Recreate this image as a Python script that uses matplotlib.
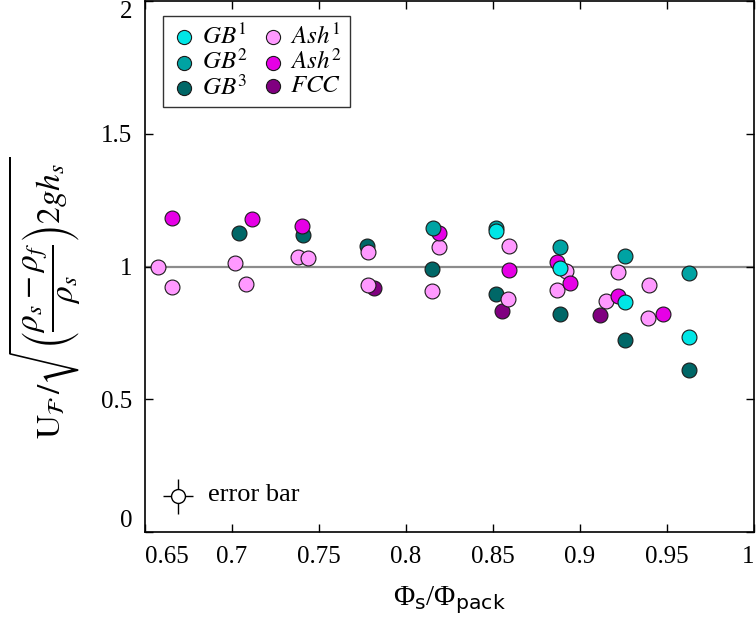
import numpy as np
import matplotlib
matplotlib.use('Agg')
import matplotlib.pyplot as plt
from matplotlib.ticker import FuncFormatter

plt.rcParams['font.family'] = ['Liberation Serif', 'DejaVu Serif']
plt.rcParams['mathtext.fontset'] = 'stix'
# used only by the x label (custom math font set)
plt.rcParams['mathtext.rm'] = 'Liberation Serif'
plt.rcParams['mathtext.it'] = 'Liberation Serif:italic'
plt.rcParams['mathtext.sf'] = 'DejaVu Sans'

# ---------------------------------------------------------------------------
# data  (Phi_s/Phi_pack , normalised front velocity)
# ---------------------------------------------------------------------------
fcc_x = [0.7816, 0.855, 0.9114]
fcc_y = [0.920, 0.831, 0.816]

ash1_x = [0.6575, 0.6655, 0.7017, 0.708, 0.7378, 0.7434, 0.778, 0.778,
          0.815, 0.819, 0.859, 0.8589, 0.892, 0.8868, 0.9219, 0.915,
          0.9397, 0.9393]
ash1_y = [0.998, 0.921, 1.012, 0.934, 1.035, 1.031, 1.055, 0.931,
          0.907, 1.073, 1.079, 0.877, 0.984, 0.913, 0.980, 0.871,
          0.929, 0.807]

ash2_x = [0.6655, 0.7114, 0.740, 0.819, 0.8593, 0.887, 0.8943, 0.9217, 0.948]
ash2_y = [1.184, 1.178, 1.153, 1.125, 0.988, 1.016, 0.936, 0.890, 0.820]

gb3_x = [0.704, 0.741, 0.7778, 0.815, 0.852, 0.8888, 0.9259, 0.9628]
gb3_y = [1.125, 1.118, 1.076, 0.990, 0.897, 0.821, 0.723, 0.612]

gb2_x = [0.8153, 0.8518, 0.8887, 0.9257, 0.9626]
gb2_y = [1.144, 1.145, 1.075, 1.040, 0.977]

gb1_x = [0.8518, 0.8885, 0.9257, 0.9626]
gb1_y = [1.133, 0.9925, 0.865, 0.734]

# error bar example (marker in lower left)
err_x, err_y = 0.669, 0.135
err_dx, err_dy = 0.0086, 0.066

fig = plt.figure(figsize=(7.56, 6.21), dpi=100)
ax = fig.add_axes([0.1918, 0.1433, 0.8055, 0.8551])

ax.axhline(1.0, color='#8c8c8c', lw=1.6, zorder=1)

kw = dict(s=115, edgecolors='#1a1a1a', linewidths=0.8, zorder=3)
series = [
    (fcc_x,  fcc_y,  '#800080', r'$FCC$'),
    (gb3_x,  gb3_y,  '#006767', r'$GB^{3}$'),
    (ash1_x, ash1_y, '#FF99FF', r'$Ash^{1}$'),
    (ash2_x, ash2_y, '#E600E6', r'$Ash^{2}$'),
    (gb2_x,  gb2_y,  '#00A3A3', r'$GB^{2}$'),
    (gb1_x,  gb1_y,  '#00E6E6', r'$GB^{1}$'),
]
handles = {}
for x, y, c, lab in series:
    handles[lab] = ax.scatter(x, y, color=c, label=lab, **kw)

order = [r'$GB^{1}$', r'$GB^{2}$', r'$GB^{3}$',
         r'$Ash^{1}$', r'$Ash^{2}$', r'$FCC$']
leg = ax.legend([handles[k] for k in order], order, ncol=2,
                loc='upper left', bbox_to_anchor=(0.0295, 0.972),
                fontsize=18, frameon=True, fancybox=False,
                handletextpad=0.15, columnspacing=0.45, labelspacing=0.02,
                borderpad=0.3, handlelength=1.1, borderaxespad=0.,
                markerscale=0.95)
leg.get_frame().set_edgecolor('black')
leg.get_frame().set_linewidth(1.0)

# error bar sample
ax.errorbar([err_x], [err_y], xerr=[err_dx], yerr=[err_dy], fmt='o',
            mfc='white', mec='black', ecolor='black', ms=10, mew=1.0,
            elinewidth=1.0, capsize=0, zorder=3)
ax.text(err_x + 0.017, err_y + 0.005, 'error bar', fontsize=19,
        va='center', ha='left')

ax.set_xlim(0.65, 1.0)
ax.set_ylim(0, 2)
ax.set_xticks(np.arange(0.65, 1.0001, 0.05))
ax.set_yticks([0, 0.5, 1, 1.5, 2])
ax.xaxis.set_major_formatter(FuncFormatter(lambda v, p: f'{v:g}'))
ax.yaxis.set_major_formatter(FuncFormatter(lambda v, p: f'{v:g}'))
ax.tick_params(direction='in', length=6, width=1.0, labelsize=18,
               top=True, right=True)
ax.tick_params(axis='x', pad=10)
ax.tick_params(axis='y', pad=9)
for sp in ax.spines.values():
    sp.set_linewidth(1.2)

# keep edge labels inside the figure, as in the original
xl = ax.get_xticklabels()
xl[0].set_ha('left')
xl[-1].set_ha('right')
yl = ax.get_yticklabels()
yl[0].set_va('bottom')
yl[-1].set_va('top')

ax.set_xlabel(r'$\Phi_{\mathsf{s}}/\Phi_{\mathsf{pack}}$', fontsize=21,
              math_fontfamily='custom')
ax.xaxis.set_label_coords(0.5, -0.098)
ax.set_ylabel(r'$\mathrm{U}_{\mathcal{F}}\,/\sqrt{\left(\dfrac{\rho_s-\rho_f}{\rho_s}\right)2gh_s}$',
              fontsize=24)
ax.yaxis.set_label_coords(-0.102, 0.44)

fig.savefig('out.png', dpi=100)
